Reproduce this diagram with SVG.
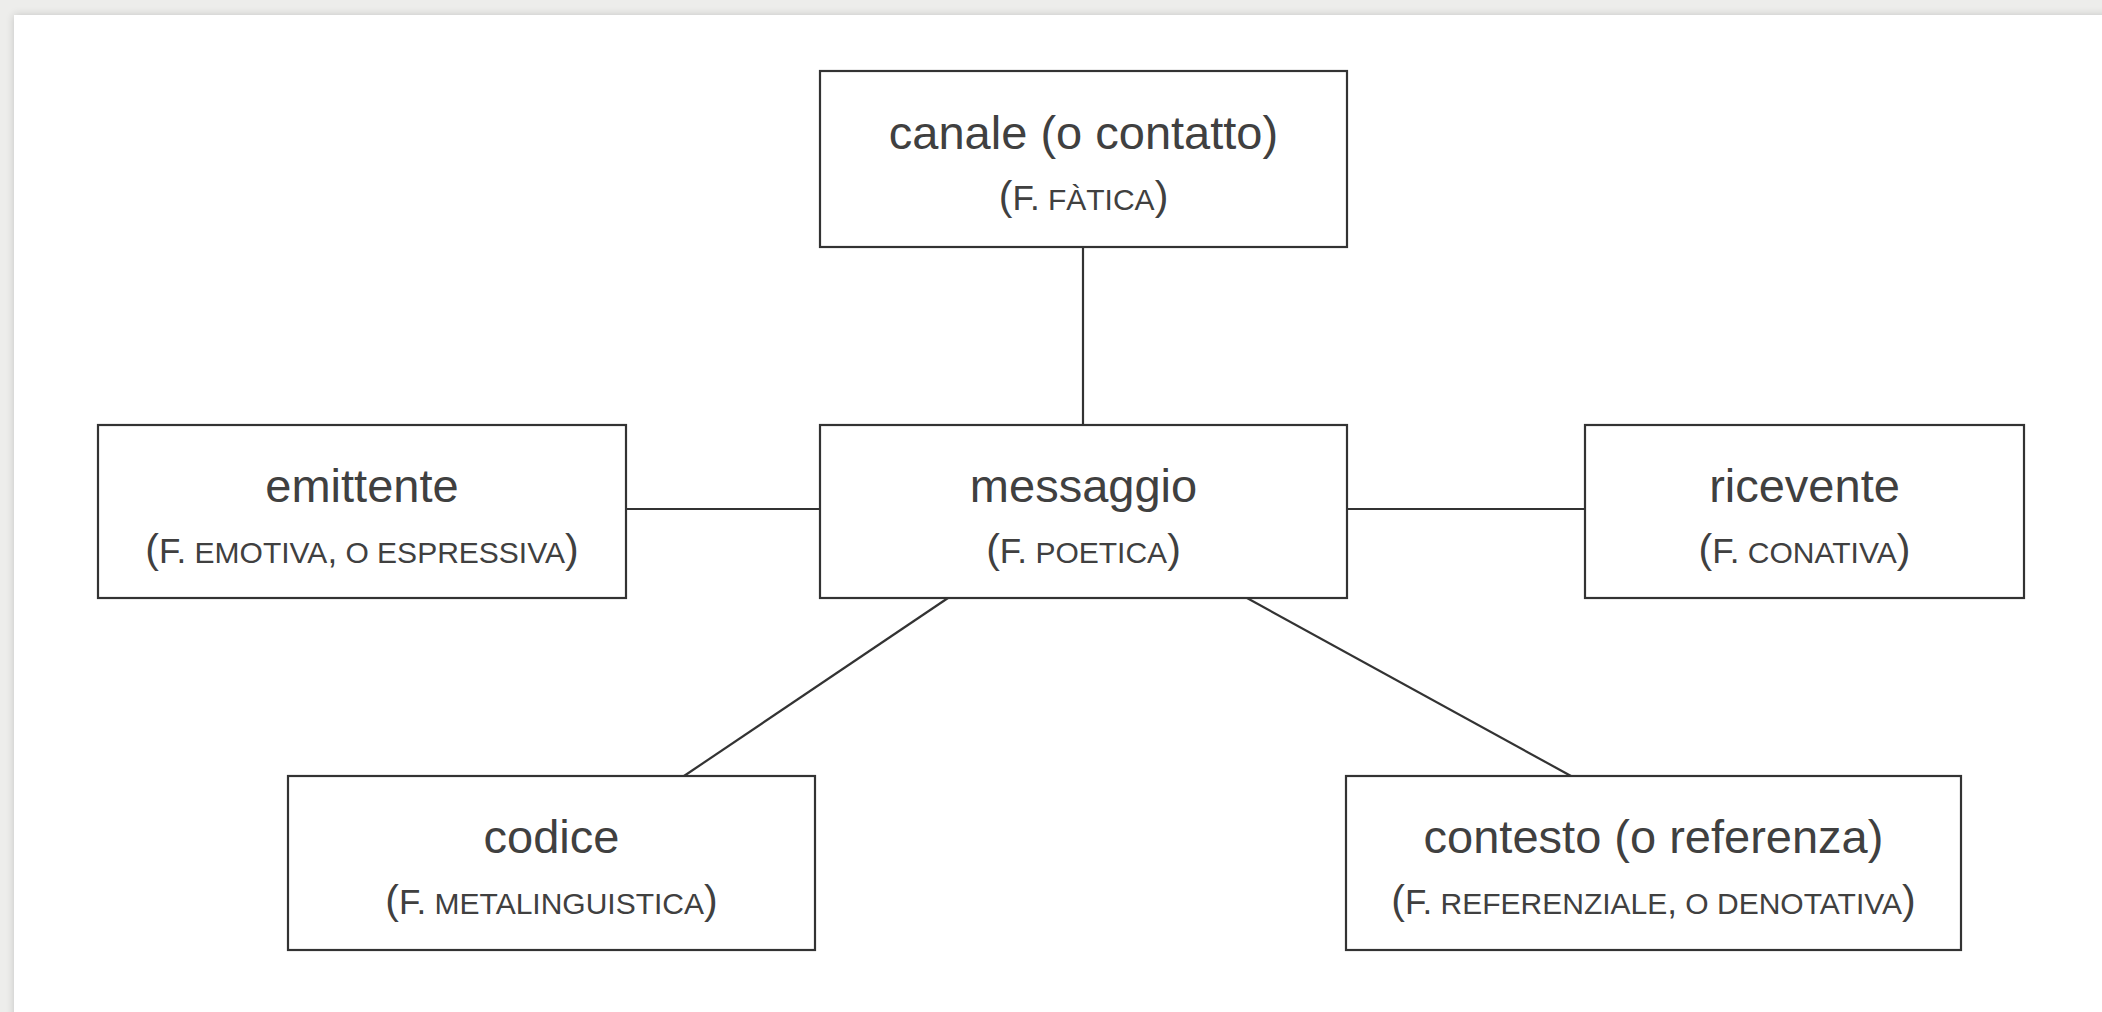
<svg xmlns="http://www.w3.org/2000/svg" width="2102" height="1012" viewBox="0 0 2102 1012">
<defs>
<filter id="sh" x="-5%" y="-5%" width="110%" height="110%">
<feGaussianBlur in="SourceAlpha" stdDeviation="4"/>
<feOffset dx="0" dy="0"/>
<feComponentTransfer><feFuncA type="linear" slope="0.18"/></feComponentTransfer>
<feMerge><feMergeNode/><feMergeNode in="SourceGraphic"/></feMerge>
</filter>
</defs>
<style>
.box{fill:#fff;stroke:#333;stroke-width:2.2}
.ln{stroke:#333;stroke-width:2.2;fill:none}
text{font-family:"Liberation Sans","Arial",sans-serif;fill:#404040;text-anchor:middle}
.t1{font-size:47px}
.t2{font-size:30px}
.p{font-size:41px}
.f{font-size:35px}
</style>
<rect x="0" y="0" width="2102" height="1012" fill="#ededeb"/>
<rect x="14" y="15" width="2120" height="1040" fill="#fff" filter="url(#sh)"/>

<g id="connectors">
<line class="ln" x1="1083" y1="247" x2="1083" y2="425"/>
<line class="ln" x1="626" y1="509" x2="820" y2="509"/>
<line class="ln" x1="1347" y1="509" x2="1585" y2="509"/>
<line class="ln" x1="948" y1="598" x2="684" y2="776"/>
<line class="ln" x1="1247" y1="598" x2="1571" y2="776"/>
</g>

<g id="canale">
<rect class="box" x="820" y="71" width="527" height="176"/>
<text class="t1" x="1083.5" y="149">canale (o contatto)</text>
<text class="t2" x="1083.5" y="210"><tspan class="p">(</tspan><tspan class="f">F.</tspan> FÀTICA<tspan class="p">)</tspan></text>
</g>

<g id="messaggio">
<rect class="box" x="820" y="425" width="527" height="173"/>
<text class="t1" x="1083.5" y="502">messaggio</text>
<text class="t2" x="1083.5" y="563"><tspan class="p">(</tspan><tspan class="f">F.</tspan> POETICA<tspan class="p">)</tspan></text>
</g>

<g id="emittente">
<rect class="box" x="98" y="425" width="528" height="173"/>
<text class="t1" x="362" y="502">emittente</text>
<text class="t2" x="362" y="563"><tspan class="p">(</tspan><tspan class="f">F.</tspan> EMOTIVA<tspan class="f">,</tspan> O ESPRESSIVA<tspan class="p">)</tspan></text>
</g>

<g id="ricevente">
<rect class="box" x="1585" y="425" width="439" height="173"/>
<text class="t1" x="1804.5" y="502">ricevente</text>
<text class="t2" x="1804.5" y="563"><tspan class="p">(</tspan><tspan class="f">F.</tspan> CONATIVA<tspan class="p">)</tspan></text>
</g>

<g id="codice">
<rect class="box" x="288" y="776" width="527" height="174"/>
<text class="t1" x="551.5" y="853">codice</text>
<text class="t2" x="551.5" y="914"><tspan class="p">(</tspan><tspan class="f">F.</tspan> METALINGUISTICA<tspan class="p">)</tspan></text>
</g>

<g id="contesto">
<rect class="box" x="1346" y="776" width="615" height="174"/>
<text class="t1" x="1653.5" y="853">contesto (o referenza)</text>
<text class="t2" x="1653.5" y="914"><tspan class="p">(</tspan><tspan class="f">F.</tspan> REFERENZIALE<tspan class="f">,</tspan> O DENOTATIVA<tspan class="p">)</tspan></text>
</g>
</svg>
